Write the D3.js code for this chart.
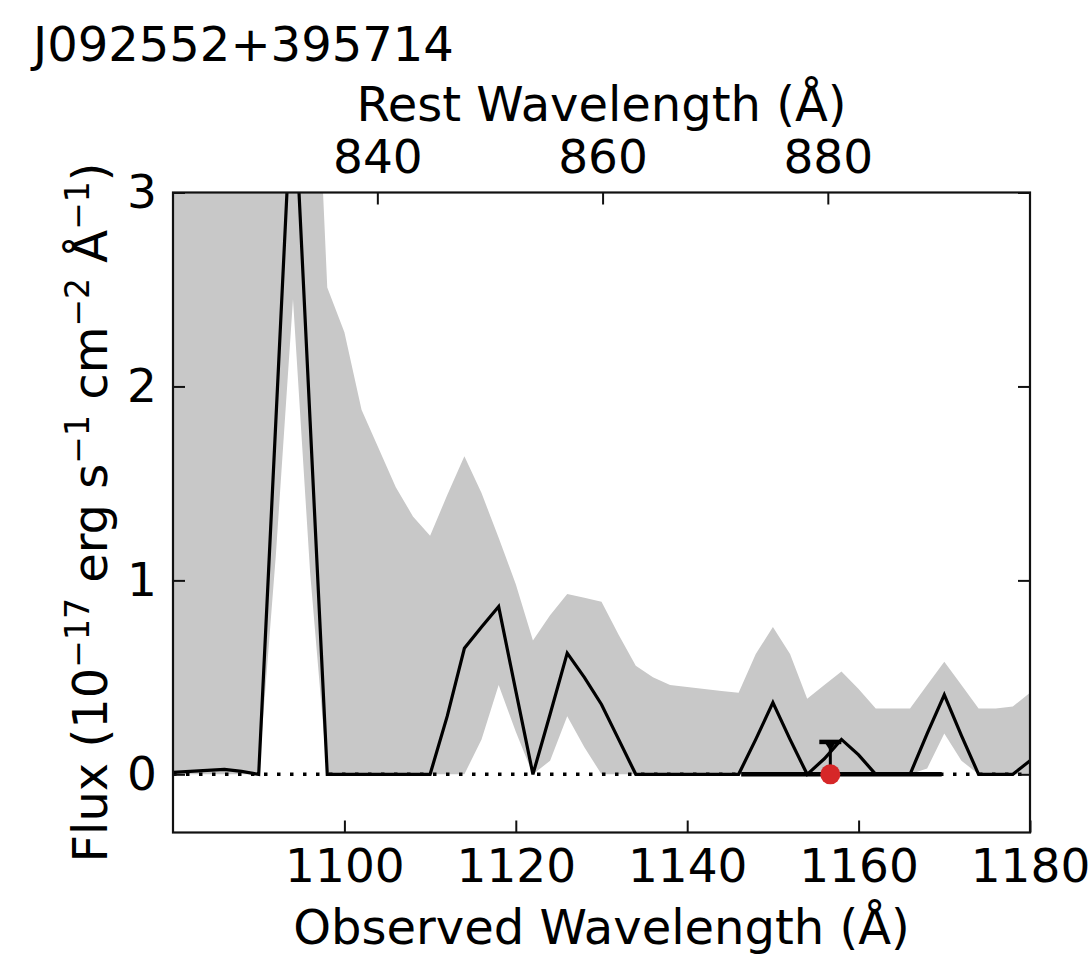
<!DOCTYPE html>
<html>
<head>
<meta charset="utf-8">
<script src="https://d3js.org/d3.v7.min.js"></script>
<style>
  body { margin: 0; background: #fff; }
  text { font-family: "DejaVu Sans", sans-serif; fill: #000; }
</style>
</head>
<body>
<svg id="chart" width="1092" height="956"></svg>
<script>

// spectrum
var wavelength = [1080, 1082, 1084, 1086, 1088, 1090, 1092, 1094, 1096, 1098,
                  1100, 1102, 1104, 1106, 1108, 1110, 1112, 1114, 1116, 1118,
                  1120, 1122, 1124, 1126, 1128, 1130, 1132, 1134, 1136, 1138,
                  1140, 1142, 1144, 1146, 1148, 1150, 1152, 1154, 1156, 1158,
                  1160, 1162, 1164, 1166, 1168, 1170, 1172, 1174, 1176, 1178, 1180]
var flux = [0.01, 0.015, 0.02, 0.025, 0.015, 0, 1.82, 3.64, 1.82, 0,
            0, 0, 0, 0, 0, 0, 0.30, 0.65, 0.76, 0.865,
            0.43, 0, 0.31, 0.625, 0.50, 0.36, 0.18, 0, 0, 0,
            0, 0, 0, 0, 0.18, 0.37, 0.18, 0, 0.08, 0.18,
            0.10, 0, 0, 0, 0.21, 0.41, 0.20, 0, 0, 0, 0.07]
var fluxUpper = [4.5, 4.5, 4.5, 4.5, 4.5, 4.5, 5.0, 5.0, 4.5, 2.51,
                 2.28, 1.88, 1.68, 1.48, 1.33, 1.23, 1.44, 1.64, 1.45, 1.22,
                 0.98, 0.69, 0.82, 0.93, 0.91, 0.89, 0.72, 0.56, 0.50, 0.46,
                 0.45, 0.44, 0.43, 0.42, 0.62, 0.76, 0.62, 0.39, 0.46, 0.53,
                 0.44, 0.34, 0.34, 0.34, 0.46, 0.58, 0.46, 0.34, 0.34, 0.35, 0.42]
var fluxLower = [0, 0, 0, 0, 0, 0, 1.13, 2.45, 1.04, 0,
                 0, 0, 0, 0, 0, 0, 0, 0, 0.18, 0.46,
                 0.22, 0, 0.07, 0.30, 0.14, 0, 0, 0, 0, 0,
                 0, 0, 0, 0, 0, 0, 0, 0, 0, 0,
                 0, 0, 0, 0, 0.03, 0.21, 0.07, 0, 0, 0, 0]

// measurement window and the red point with its error bar
var windowWave = [1146.3, 1169.7]
var pointWave = [1156.7]
var pointFlux = [0]
var pointErr = [0.167]

// tick labels
var obsTicks = [1100, 1120, 1140, 1160, 1180]
var restTicks = [840, 860, 880]
var fluxTicks = [0, 1, 2, 3]
var redshift = 0.3141

var titleText = "J092552+395714"

var margin = {left: 173, right: 62, top: 192.5, bottom: 123.5}
var W = 1092, H = 956
var plotW = W - margin.left - margin.right
var plotH = H - margin.top - margin.bottom

var svg = d3.select("#chart")

var x = d3.scaleLinear().domain([1080, 1180]).range([0, plotW])
var xRest = d3.scaleLinear()
    .domain([1080 / (1 + redshift), 1180 / (1 + redshift)])
    .range([0, plotW])
var y = d3.scaleLinear().domain([-0.3, 3]).range([plotH, 0])

var spec = wavelength.map(function(w, i) {
    return {w: w, f: flux[i], hi: fluxUpper[i], lo: fluxLower[i]}
})

svg.append("defs").append("clipPath").attr("id", "plotclip")
    .append("rect").attr("width", plotW).attr("height", plotH)

var g = svg.append("g").attr("transform", "translate(" + margin.left + "," + margin.top + ")")
var inner = g.append("g").attr("clip-path", "url(#plotclip)")

// grey error band
var band = d3.area()
    .x(function(d) { return x(d.w) })
    .y0(function(d) { return y(d.lo) })
    .y1(function(d) { return y(d.hi) })
inner.append("path").datum(spec)
    .attr("d", band)
    .attr("fill", "#c8c8c8")

// zero level, dotted
inner.append("line")
    .attr("x1", 0).attr("x2", plotW)
    .attr("y1", y(0)).attr("y2", y(0))
    .attr("stroke", "#000")
    .attr("stroke-width", 3.5)
    .attr("stroke-dasharray", "3.5,9.5")

// flux line
var line = d3.line()
    .x(function(d) { return x(d.w) })
    .y(function(d) { return y(d.f) })
inner.append("path").datum(spec)
    .attr("d", line)
    .attr("fill", "none")
    .attr("stroke", "#000")
    .attr("stroke-width", 3.2)

// integration window
inner.append("line")
    .attr("x1", x(windowWave[0])).attr("x2", x(windowWave[1]))
    .attr("y1", y(0)).attr("y2", y(0))
    .attr("stroke", "#000")
    .attr("stroke-width", 4.5)

// error bar + point
pointWave.forEach(function(w, i) {
    var px = x(w)
    var top = y(pointFlux[i] + pointErr[i])
    inner.append("line")
        .attr("x1", px).attr("x2", px)
        .attr("y1", y(pointFlux[i])).attr("y2", top)
        .attr("stroke", "#000").attr("stroke-width", 3)
    inner.append("path")
        .attr("d", "M" + (px - 6) + "," + top + "L" + (px + 6) + "," + top + "L" + px + "," + (top + 9) + "Z")
        .attr("fill", "#000")
    inner.append("line")
        .attr("x1", px - 11).attr("x2", px + 11)
        .attr("y1", top).attr("y2", top)
        .attr("stroke", "#000").attr("stroke-width", 4.5)
    inner.append("circle")
        .attr("cx", px).attr("cy", y(pointFlux[i]))
        .attr("r", 10)
        .attr("fill", "#d62728")
})

// frame
g.append("rect")
    .attr("width", plotW).attr("height", plotH)
    .attr("fill", "none")
    .attr("stroke", "#111")
    .attr("stroke-width", 2.2)

// axes, ticks pointing in
var tickLen = 12
var fs = 47
var fmt = d3.format("d")

var xBottom = g.append("g").attr("transform", "translate(0," + plotH + ")")
    .call(d3.axisBottom(x).tickValues(obsTicks).tickFormat(fmt).tickSizeInner(-tickLen).tickSizeOuter(0).tickPadding(16))
var xTop = g.append("g")
    .call(d3.axisTop(xRest).tickValues(restTicks).tickFormat(fmt).tickSizeInner(-tickLen).tickSizeOuter(0).tickPadding(20))
var yLeft = g.append("g")
    .call(d3.axisLeft(y).tickValues(fluxTicks).tickFormat(fmt).tickSizeInner(-tickLen).tickSizeOuter(0).tickPadding(16))
var yRight = g.append("g").attr("transform", "translate(" + plotW + ",0)")
    .call(d3.axisRight(y).tickValues(fluxTicks).tickSizeInner(-tickLen).tickSizeOuter(0).tickFormat(""))

;[xBottom, xTop, yLeft, yRight].forEach(function(a) {
    a.select(".domain").remove()
    a.selectAll(".tick line").attr("stroke", "#111").attr("stroke-width", 2)
    a.selectAll(".tick text")
        .style("font-family", "DejaVu Sans")
        .style("font-size", fs + "px")
        .attr("fill", "#000")
})

// titles
svg.append("text")
    .attr("x", 33).attr("y", 61)
    .style("font-size", "48px")
    .text(titleText)

svg.append("text")
    .attr("x", margin.left + plotW / 2).attr("y", 121)
    .attr("text-anchor", "middle")
    .style("font-size", "48px")
    .text("Rest Wavelength (Å)")

svg.append("text")
    .attr("x", margin.left + plotW / 2).attr("y", 944)
    .attr("text-anchor", "middle")
    .style("font-size", "48px")
    .text("Observed Wavelength (Å)")

// y label with superscripts
var ylab = svg.append("text")
    .attr("transform", "translate(107," + (margin.top + plotH / 2) + ") rotate(-90)")
    .attr("text-anchor", "middle")
    .style("font-size", "48px")
var parts = [["Flux (10", false], ["\u221217", true], [" erg s", false], ["\u22121", true],
             [" cm", false], ["\u22122", true], [" Å", false], ["\u22121", true], [")", false]]
var shift = 0
parts.forEach(function(p) {
    var t = ylab.append("tspan").text(p[0])
    if (p[1]) {
        t.style("font-size", "33px").attr("dy", -18 - shift)
        shift = -18
    } else {
        t.attr("dy", -shift)
        shift = 0
    }
})

</script>
</body>
</html>
